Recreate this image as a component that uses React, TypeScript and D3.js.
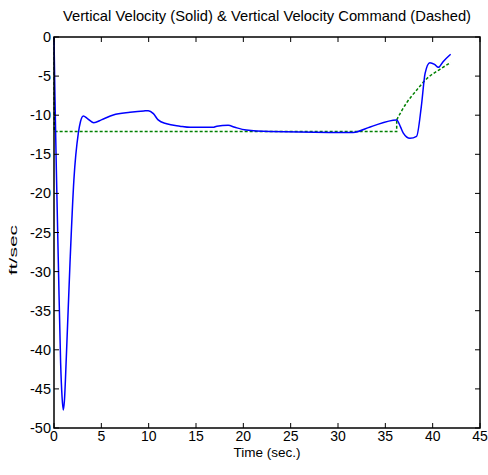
import React from "react";
import * as d3 from "d3";

const velT = [0, 0.1, 0.25, 0.46, 0.7, 0.85, 0.98, 1.1, 1.3, 1.69, 2.1, 2.57, 2.8, 3.1, 3.5, 4.2, 5, 6.26, 8.03, 9.5, 9.96, 10.5, 11.0, 11.9, 13.3, 14.4, 16.8, 17.2, 18.4, 19.1, 20.3, 22.8, 29.1, 31.6, 33.4, 36.2, 36.6, 36.9, 37.6, 38.3, 38.8, 39.2, 39.7, 40.2, 40.6, 41.1, 41.9];
const velV = [0, -7.6, -17, -28.9, -41.7, -46, -47.7, -46.5, -41, -28.9, -18.3, -12.3, -10.8, -10.1, -10.4, -10.95, -10.6, -9.97, -9.63, -9.45, -9.42, -9.8, -10.6, -11.1, -11.4, -11.55, -11.55, -11.4, -11.3, -11.55, -11.9, -12.1, -12.2, -12.2, -11.5, -10.6, -11.5, -12.3, -12.96, -12.7, -8.9, -4.65, -3.28, -3.5, -3.88, -3.15, -2.2];

const cmdStepT = [0, 0.03, 36.2, 36.2];
const cmdStepV = [0, -12.1, -12.1, -10.6];
const cmdRiseT = [36.2, 37.2, 38.3, 39.4, 40.8, 41.9];
const cmdRiseV = [-10.6, -8.5, -6.8, -5.3, -4.1, -3.28];

const xTicks = [0, 5, 10, 15, 20, 25, 30, 35, 40, 45];
const yTicks = [0, -5, -10, -15, -20, -25, -30, -35, -40, -45, -50];

const titleText = "Vertical Velocity (Solid) & Vertical Velocity Command (Dashed)";
const xLabel = "Time (sec.)";
const yLabel = "ft/sec";

const W = 488, H = 475;
const L = 54, R = 480, T = 37, B = 428;
const FONT = "'Liberation Sans', Arial, sans-serif";

export default function App() {
  const x = d3.scaleLinear().domain([0, 45]).range([L, R]);
  const y = d3.scaleLinear().domain([-50, 0]).range([B, T]);

  const velPts = velT.map((t, i) => [t, velV[i]] as [number, number]);
  const stepPts = cmdStepT.map((t, i) => [t, cmdStepV[i]] as [number, number]);
  const risePts = cmdRiseT.map((t, i) => [t, cmdRiseV[i]] as [number, number]);

  const smooth = d3.line<[number, number]>().x(d => x(d[0])).y(d => y(d[1])).curve(d3.curveMonotoneX);
  const straight = d3.line<[number, number]>().x(d => x(d[0])).y(d => y(d[1]));

  const tl = 5;
  return (
    <svg width={W} height={H} style={{ position: "absolute", left: 0, top: 0, background: "#fff" }}>
      <rect x={0} y={0} width={W} height={H} fill="#fff" />
      <g fill="none">
        <path d={straight(stepPts) || ""} stroke="#008000" strokeWidth={1.5} strokeDasharray="3,2" />
        <path d={smooth(risePts) || ""} stroke="#008000" strokeWidth={1.5} strokeDasharray="3,2" />
        <path d={smooth(velPts) || ""} stroke="#0000ff" strokeWidth={1.5} />
      </g>
      <rect x={L} y={T} width={R - L} height={B - T} fill="none" stroke="#000" strokeWidth={1.5} />
      {xTicks.map(t => (
        <g key={"x" + t}>
          <line x1={x(t)} x2={x(t)} y1={B} y2={B - tl} stroke="#000" strokeWidth={1} />
          <line x1={x(t)} x2={x(t)} y1={T} y2={T + tl} stroke="#000" strokeWidth={1} />
          <text x={x(t)} y={441} textAnchor="middle" fontFamily={FONT} fontSize={14} fill="#000">{t}</text>
        </g>
      ))}
      {yTicks.map(v => (
        <g key={"y" + v}>
          <line x1={L} x2={L + tl} y1={y(v)} y2={y(v)} stroke="#000" strokeWidth={1} />
          <line x1={R} x2={R - tl} y1={y(v)} y2={y(v)} stroke="#000" strokeWidth={1} />
          <text x={51} y={y(v) + 5} textAnchor="end" fontFamily={FONT} fontSize={14.5} fill="#000">{v}</text>
        </g>
      ))}
      <text x={(L + R) / 2} y={457} textAnchor="middle" fontFamily={FONT} fontSize={13.5} fill="#000">{xLabel}</text>
      <text x={(L + R) / 2} y={21} textAnchor="middle" fontFamily={FONT} fontSize={15} fill="#000"
        textLength={408} lengthAdjust="spacingAndGlyphs">{titleText}</text>
      <text transform={`translate(17,250) rotate(-90)`} textAnchor="middle" fontFamily={FONT} fontSize={11} fill="#000"
        textLength={50} lengthAdjust="spacingAndGlyphs">{yLabel}</text>
    </svg>
  );
}
